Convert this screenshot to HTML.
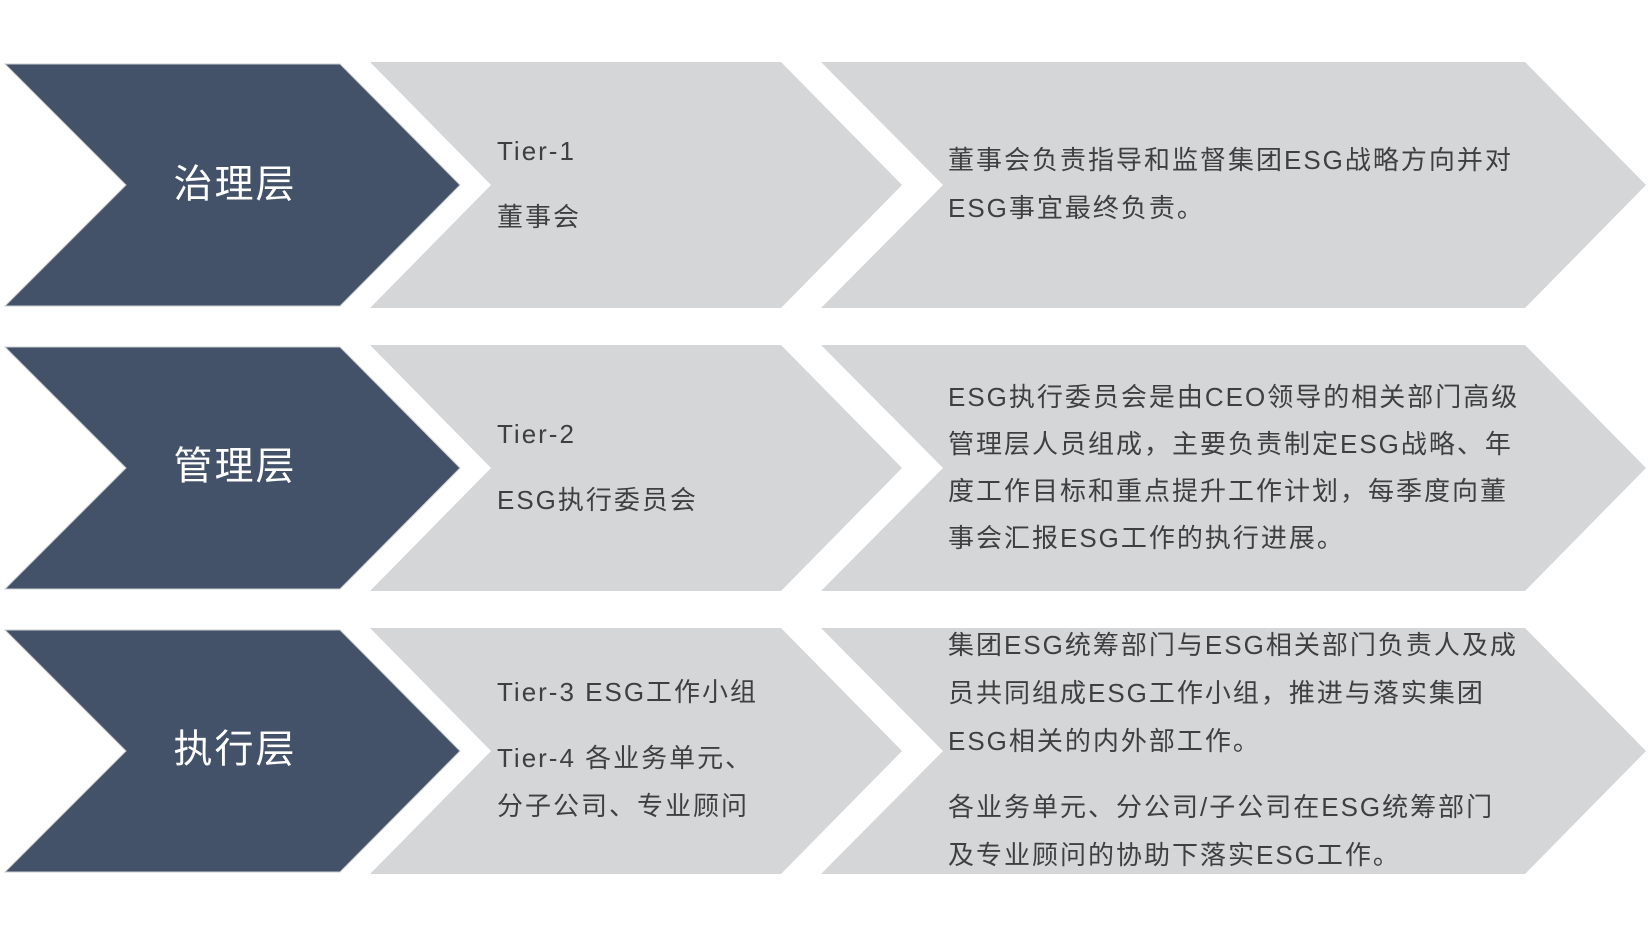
<!DOCTYPE html>
<html><head><meta charset="utf-8"><style>
html,body{margin:0;padding:0;background:#fff;}
svg{display:block;}
text{font-family:"Liberation Sans","Noto Sans CJK SC",sans-serif;}
.t{fill:#3f3f3f;font-size:26px;letter-spacing:2px;}
.h{fill:#fff;font-size:39px;letter-spacing:2px;}
</style></head><body>
<svg width="1649" height="936" viewBox="0 0 1649 936" xmlns="http://www.w3.org/2000/svg">
<defs>
<g id="row">
<polygon points="5,0 340,0 460,121 340,242 5,242 126,121" fill="#435269" stroke="#c9ccd1" stroke-width="1"/>
<polygon points="370,-2 781,-2 902,121 781,244 370,244 491,121" fill="#d5d6d8"/>
<polygon points="821,-2 1525,-2 1646,121 1525,244 821,244 943,121" fill="#d5d6d8"/>
</g>
</defs>
<use href="#row" x="0" y="64"/>
<use href="#row" x="0" y="347"/>
<use href="#row" x="0" y="630"/>

<g dominant-baseline="central">
<text class="h" x="235" y="185" text-anchor="middle">治理层</text>
<text class="h" x="235" y="467" text-anchor="middle">管理层</text>
<text class="h" x="235" y="750" text-anchor="middle">执行层</text>

<text class="t" x="497" y="151">Tier-1</text>
<text class="t" x="497" y="217">董事会</text>
<text class="t" x="948" y="160">董事会负责指导和监督集团ESG战略方向并对</text>
<text class="t" x="948" y="208">ESG事宜最终负责。</text>

<text class="t" x="497" y="434">Tier-2</text>
<text class="t" x="497" y="500">ESG执行委员会</text>
<text class="t" x="948" y="397">ESG执行委员会是由CEO领导的相关部门高级</text>
<text class="t" x="948" y="444">管理层人员组成，主要负责制定ESG战略、年</text>
<text class="t" x="948" y="491">度工作目标和重点提升工作计划，每季度向董</text>
<text class="t" x="948" y="538">事会汇报ESG工作的执行进展。</text>

<text class="t" x="497" y="692">Tier-3 ESG工作小组</text>
<text class="t" x="497" y="758">Tier-4 各业务单元、</text>
<text class="t" x="497" y="806">分子公司、专业顾问</text>
<text class="t" x="948" y="645">集团ESG统筹部门与ESG相关部门负责人及成</text>
<text class="t" x="948" y="693">员共同组成ESG工作小组，推进与落实集团</text>
<text class="t" x="948" y="741">ESG相关的内外部工作。</text>
<text class="t" x="948" y="807">各业务单元、分公司/子公司在ESG统筹部门</text>
<text class="t" x="948" y="855">及专业顾问的协助下落实ESG工作。</text>
</g>
</svg>
</body></html>
